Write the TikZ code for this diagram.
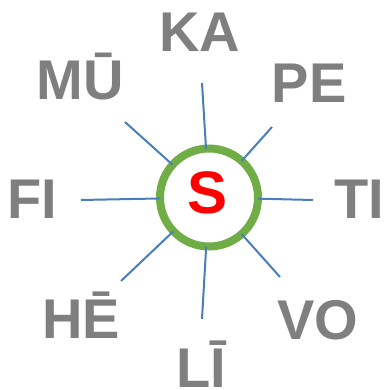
\documentclass[tikz,border=0pt]{standalone}
\usepackage{fontspec}
\setmainfont{Liberation Sans}
\usepackage{tikz}
\usetikzlibrary{positioning}
\definecolor{ringgreen}{HTML}{70AD47}
\definecolor{spokeblue}{HTML}{4A7EBB}
\definecolor{labelgray}{HTML}{7F7F7F}

\begin{document}
\begin{tikzpicture}[x=1pt,y=-1pt,
    hub/.style={
        circle,
        draw=ringgreen,
        line width=8pt,
        minimum size=98pt,
        inner sep=0pt,
        outer sep=0pt,
        text=red,
        font=\fontsize{58}{58}\selectfont\bfseries},
    syllable/.style={
        anchor=base,
        inner sep=0pt,
        text=labelgray,
        font=\fontsize{56}{56}\selectfont\bfseries},
    spoke/.style={
        draw=spokeblue,
        line width=2pt},
  ]
  \useasboundingbox (0,0) rectangle (388,390);
  % Hub
  \node[hub] (s) at (209,197.5) {};
  \node[anchor=base,inner sep=0pt,text=red,font=\fontsize{60}{60}\selectfont\bfseries] (sletter) at (208,213) {S};
  % Syllables
  \node[syllable] (ka) at (200,52) {KA};
  \node[syllable] (pe) at (309,103) {PE};
  \node[syllable,anchor=base west] (ti) at (334,218) {TI};
  \node[syllable] (vo) at (318,339) {VO};
  \node[syllable] (li) at (201,387) {LĪ};
  \node[syllable] (he) at (81,338) {HĒ};
  \node[syllable] (fi) at (32,218) {FI};
  \node[syllable] (mu) at (80,100) {MŪ};
  % Spoke ends
  \coordinate (kaend) at (202,83);
  \coordinate (peend) at (272,127);
  \coordinate (tiend) at (313,200);
  \coordinate (voend) at (280,277);
  \coordinate (liend) at (202,319);
  \coordinate (heend) at (121,281);
  \coordinate (fiend) at (81,200);
  \coordinate (muend) at (125,122);
  % Spokes
  \foreach \e in {kaend,peend,tiend,voend,liend,heend,fiend,muend}
    \draw[spoke] (s) -- (\e);
\end{tikzpicture}
\end{document}
